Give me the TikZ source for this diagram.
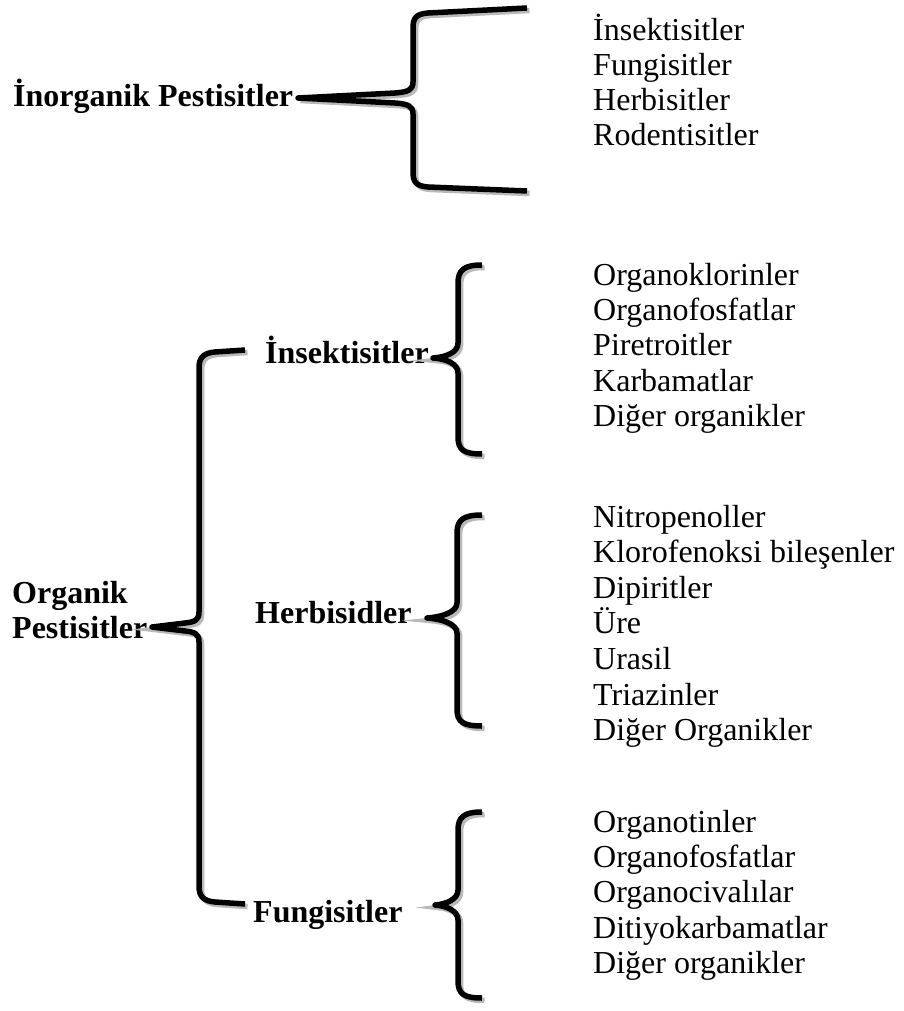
\documentclass[tikz,border=0pt]{standalone}
\usepackage{fontspec}
\setmainfont{Liberation Serif}
\tikzset{
    cat/.style={font=\fontsize{32}{35}\selectfont\bfseries, inner sep=0pt, anchor=base west},
    item/.style={font=\fontsize{32}{35}\selectfont, inner sep=0pt, anchor=base west},
    curly/.style={line width=5.5pt, line join=round,
        preaction={draw=gray!55, line width=5.5pt, transform canvas={shift={(2.5pt,-2.5pt)}}}}
}
\begin{document}
\begin{tikzpicture}[x=1pt, y=-1pt]
    \useasboundingbox (0,0) rectangle (903,1011);

    % Inorganik pestisitler
    \node[cat] (inorg) at (13,107) {İnorganik Pestisitler};
    \node[item] (in1) at (593,41) {İnsektisitler};
    \node[item] (in2) at (593,76) {Fungisitler};
    \node[item] (in3) at (593,111) {Herbisitler};
    \node[item] (in4) at (593,146) {Rodentisitler};

    % Organik pestisitler and groups
    \node[cat, anchor=north west, align=left] (org) at (12,581) {Organik\\Pestisitler};
    \node[cat] (ins) at (265,363) {İnsektisitler};
    \node[cat] (herb) at (255,623) {Herbisidler};
    \node[cat] (fun) at (253,922) {Fungisitler};

    % Items of insektisitler
    \node[item] (ins1) at (593,285) {Organoklorinler};
    \node[item] (ins2) at (593,320) {Organofosfatlar};
    \node[item] (ins3) at (593,355) {Piretroitler};
    \node[item] (ins4) at (593,391) {Karbamatlar};
    \node[item] (ins5) at (593,426) {Diğer organikler};

    % Items of herbisidler
    \node[item] (herb1) at (593,527) {Nitropenoller};
    \node[item] (herb2) at (593,562) {Klorofenoksi bileşenler};
    \node[item] (herb3) at (593,598) {Dipiritler};
    \node[item] (herb4) at (593,633) {Üre};
    \node[item] (herb5) at (593,669) {Urasil};
    \node[item] (herb6) at (593,705) {Triazinler};
    \node[item] (herb7) at (593,740) {Diğer Organikler};

    % Items of fungisitler
    \node[item] (fun1) at (593,832) {Organotinler};
    \node[item] (fun2) at (593,867) {Organofosfatlar};
    \node[item] (fun3) at (593,902) {Organocivalılar};
    \node[item] (fun4) at (593,938) {Ditiyokarbamatlar};
    \node[item] (fun5) at (593,973) {Diğer organikler};

    % Brace tips
    \coordinate (tinorg) at (298,98);
    \coordinate (torg) at (152,627);
    \coordinate (tins) at (433,358);
    \coordinate (therb) at (427,618);
    \coordinate (tfun) at (435,905);

    % Braces
    \draw[curly] (527,8) -- (428,13) .. controls (416,14) and (413,18) .. (413,28)
        -- (413,82) .. controls (413,90) and (408,92) .. (395,93) -- (tinorg)
        -- (395,103) .. controls (408,104) and (413,106) .. (413,114)
        -- (413,172) .. controls (413,182) and (416,186) .. (428,187) -- (527,191);
    \draw[curly] (245,350) -- (215,352) .. controls (203,353) and (199,358) .. (199,368)
        -- (199,612) .. controls (199,620) and (195,622) .. (185,623) -- (torg)
        -- (185,631) .. controls (195,632) and (199,634) .. (199,642)
        -- (199,886) .. controls (199,896) and (203,901) .. (215,902) -- (245,904);
    \draw[curly] (482,265) .. controls (464,265) and (458,270) .. (458,283)
        -- (458,343) .. controls (458,352) and (447,357) .. (tins)
        .. controls (447,359) and (458,364) .. (458,373)
        -- (458,437) .. controls (458,450) and (464,454) .. (482,454);
    \draw[curly] (482,515) .. controls (463,515) and (457,520) .. (457,533)
        -- (457,603) .. controls (457,612) and (442,617) .. (therb)
        .. controls (442,619) and (457,624) .. (457,633)
        -- (457,709) .. controls (457,722) and (463,726) .. (482,726);
    \draw[curly] (482,812) .. controls (464,812) and (458,817) .. (458,830)
        -- (458,890) .. controls (458,899) and (447,904) .. (tfun)
        .. controls (447,906) and (458,911) .. (458,920)
        -- (458,981) .. controls (458,994) and (464,998) .. (482,998);
\end{tikzpicture}
\end{document}
